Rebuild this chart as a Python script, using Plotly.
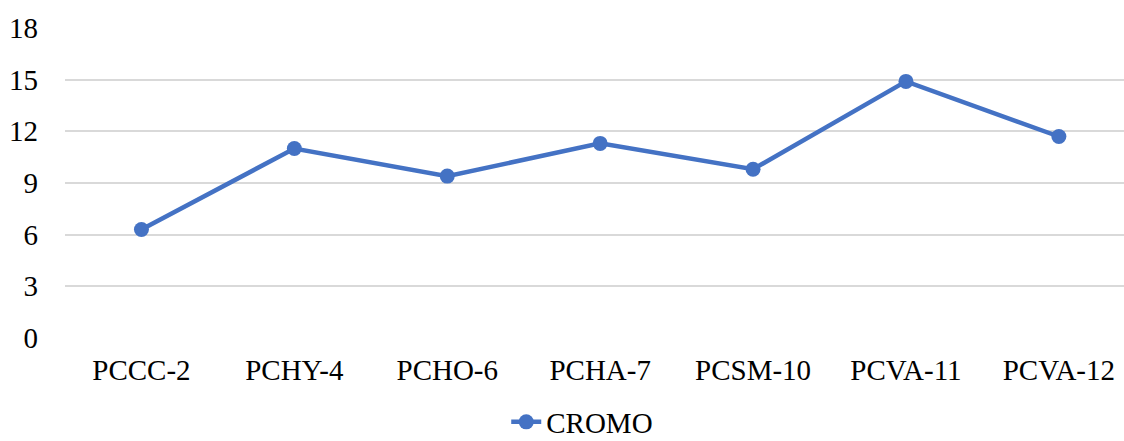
import plotly.graph_objects as go

categories = ["PCCC-2", "PCHY-4", "PCHO-6", "PCHA-7", "PCSM-10", "PCVA-11", "PCVA-12"]
cromo = [6.3, 11.0, 9.4, 11.3, 9.8, 14.9, 11.7]
y_ticks = [0, 3, 6, 9, 12, 15, 18]

BLUE = "#4472C4"
SERIF = "Liberation Serif"
TEXT_SIZE = 29
TEXT_FONT = dict(family=SERIF, size=TEXT_SIZE, color="#000000")

fig = go.Figure()
fig.add_trace(go.Scatter(
    x=categories,
    y=cromo,
    mode="lines+markers",
    name="CROMO",
    line=dict(color=BLUE, width=4.5),
    marker=dict(color=BLUE, size=15),
))

fig.update_layout(
    width=1124,
    height=441,
    margin=dict(l=65, r=0, t=28, b=103, autoexpand=False),
    paper_bgcolor="white",
    plot_bgcolor="white",
    font=TEXT_FONT,
    showlegend=True,
    legend=dict(
        orientation="h",
        xref="container", yref="container",
        x=0.518, xanchor="center",
        y=19 / 441, yanchor="middle",
        font=TEXT_FONT,
        itemwidth=30,
    ),
)

fig.update_xaxes(
    type="category",
    range=[-0.5, 6.426],
    showgrid=False,
    showline=False,
    zeroline=False,
    ticks="",
    automargin=False,
    ticklabelstandoff=12,
    tickfont=TEXT_FONT,
)

fig.update_yaxes(
    range=[0, 18],
    tickvals=y_ticks,
    showgrid=True,
    gridcolor="#D9D9D9",
    gridwidth=1.5,
    zeroline=False,
    showline=False,
    ticks="",
    automargin=False,
    ticklabelstandoff=26,
    tickfont=TEXT_FONT,
)

fig.write_html("out.html")
